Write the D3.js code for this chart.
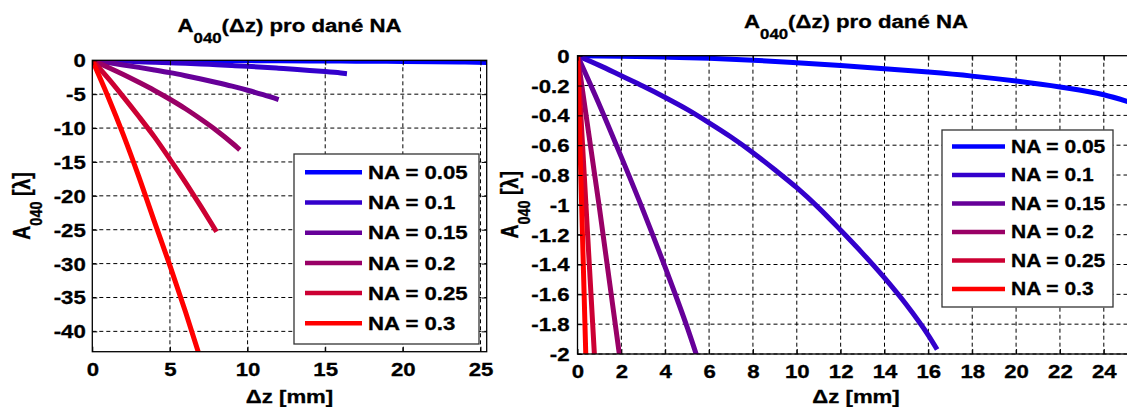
<!DOCTYPE html>
<html>
<head>
<meta charset="utf-8">
<script src="https://cdn.jsdelivr.net/npm/d3@7"></script>
<style>
  body { margin: 0; background: #fff; }
  svg { display: block; }
  text { font-family: "Liberation Sans", Arial, sans-serif; font-weight: bold; fill: #000; stroke: #000; stroke-width: 0.3px; }
</style>
</head>
<body>
<svg id="chart" width="1127" height="407"></svg>
<script>
// legend labels and line colours (blue -> red)
const naLabels = ["NA = 0.05", "NA = 0.1", "NA = 0.15", "NA = 0.2", "NA = 0.25", "NA = 0.3"];
const naColors = ["#0000ff", "#3300cc", "#660099", "#990066", "#cc0033", "#ff0000"];

// values: dz [mm] and A040 [lambda]
const dzNA005 = [0, 2, 4, 6, 8, 10, 12, 14, 16, 18, 20, 22, 24, 25.4];
const a040NA005 = [0, -0.003, -0.009, -0.017, -0.03, -0.047, -0.066, -0.087, -0.11, -0.137, -0.17, -0.21, -0.262, -0.322];
const dzNA01 = [0, 1, 2, 3, 4, 5, 6, 7, 8, 9, 10, 11, 12, 13, 14, 15, 16, 16.4];
const a040NA01 = [0, -0.065, -0.135, -0.205, -0.28, -0.36, -0.45, -0.545, -0.65, -0.765, -0.885, -1.02, -1.17, -1.325, -1.49, -1.67, -1.875, -1.97];
const dzNA015 = [0, 1, 2, 3, 4, 5, 6, 7, 8, 9, 10, 11, 12];
const a040NA015 = [0, -0.33, -0.68, -1.04, -1.42, -1.82, -2.27, -2.75, -3.27, -3.82, -4.42, -5.08, -5.8];
const dzNA02 = [0, 1, 2, 3, 4, 5, 6, 7, 8, 9, 9.5];
const a040NA02 = [0, -1.02, -2.1, -3.25, -4.45, -5.75, -7.15, -8.7, -10.35, -12.2, -13.2];
const dzNA025 = [0, 1, 2, 3, 4, 5, 6, 7, 8];
const a040NA025 = [0, -2.6, -5.4, -8.3, -11.3, -14.6, -18.0, -21.6, -25.3];
const dzNA03 = [0, 1, 2, 3, 4, 5, 6, 7];
const a040NA03 = [0, -5.3, -11.0, -17.2, -23.8, -30.3, -37.1, -44.3];

// tick values for both panels
const leftXTicks = [0, 5, 10, 15, 20, 25];
const leftYTicks = [0, -5, -10, -15, -20, -25, -30, -35, -40];
const rightXTicks = [0, 2, 4, 6, 8, 10, 12, 14, 16, 18, 20, 22, 24];
const rightYTicks = [0, -0.2, -0.4, -0.6, -0.8, -1, -1.2, -1.4, -1.6, -1.8, -2];

const SX = 1.2; // the picture's text is stretched sideways

function main(){
  const svg = d3.select("#chart");
  const dzAll = [dzNA005, dzNA01, dzNA015, dzNA02, dzNA025, dzNA03];
  const aAll = [a040NA005, a040NA01, a040NA015, a040NA02, a040NA025, a040NA03];
  const series = naLabels.map((label, i) => ({
    label: label,
    color: naColors[i],
    points: d3.zip(dzAll[i], aAll[i])
  }));

  draw_panel(svg, series, {
    id: "left", left: 92.3, right: 486.7, top: 60.3, bottom: 351.7,
    xDomain: [0, 25.4], yDomain: [-43, 0],
    xTicks: leftXTicks, yTicks: leftYTicks,
    titleY: 31.7, xLabelY: 403, yLabelX: 30, xTickY: 376, yTickGap: 6.5,
    legend: {x: 294, y: 154, w: 185, h: 190, first: 172.3, step: 30.2, l1: 305, l2: 362, tx: 368, fs: 18.5}
  });

  draw_panel(svg, series, {
    id: "right", left: 577.5, right: 1134.5, top: 55.7, bottom: 354,
    xDomain: [0, 25.4], yDomain: [-2, 0],
    xTicks: rightXTicks, yTicks: rightYTicks,
    titleY: 28, xLabelY: 403, yLabelX: 518, xTickY: 378, yTickGap: 8,
    legend: {x: 942, y: 130, w: 171, h: 177, first: 146.5, step: 28.5, l1: 952, l2: 1005, tx: 1011, fs: 17.5}
  });
}

function place(sel, x, y, rotate){
  // position a text and stretch it horizontally like the original
  sel.attr("x", 0).attr("y", 0)
    .attr("transform", `translate(${x},${y}) scale(${SX},1)` + (rotate ? ` rotate(${rotate})` : ""));
  return sel;
}

function draw_panel(svg, series, cfg){
  const g = svg.append("g").attr("id", cfg.id);
  const xScale = d3.scaleLinear().domain(cfg.xDomain).range([cfg.left, cfg.right]);
  const yScale = d3.scaleLinear().domain(cfg.yDomain).range([cfg.bottom, cfg.top]);

  // clip for the curves
  const clipId = "clip-" + cfg.id;
  svg.append("clipPath").attr("id", clipId).append("rect")
    .attr("x", cfg.left).attr("y", cfg.top)
    .attr("width", cfg.right - cfg.left).attr("height", cfg.bottom - cfg.top);

  // dashed grid
  const grid = g.append("g").attr("stroke", "#000").attr("stroke-width", 1).attr("stroke-dasharray", "4,3");
  grid.selectAll("line.gx").data(cfg.xTicks.filter(d => d > 0)).join("line").attr("class", "gx")
    .attr("x1", d => xScale(d)).attr("x2", d => xScale(d))
    .attr("y1", cfg.top).attr("y2", cfg.bottom);
  grid.selectAll("line.gy").data(cfg.yTicks.filter(d => d < 0)).join("line").attr("class", "gy")
    .attr("x1", cfg.left).attr("x2", cfg.right)
    .attr("y1", d => yScale(d)).attr("y2", d => yScale(d));

  // curves
  const line = d3.line().x(d => xScale(d[0])).y(d => yScale(d[1])).curve(d3.curveMonotoneX);
  g.append("g").attr("clip-path", `url(#${clipId})`)
    .selectAll("path").data(series).join("path")
    .attr("d", d => line(d.points))
    .attr("fill", "none").attr("stroke", d => d.color)
    .attr("stroke-width", 5).attr("stroke-linejoin", "round");

  // axes, ticks pointing inside on all four sides
  const fmt = d => String(d);
  const xAxis = d3.axisBottom(xScale).tickValues(cfg.xTicks).tickSize(-5).tickFormat(fmt);
  const yAxis = d3.axisLeft(yScale).tickValues(cfg.yTicks).tickSize(-5).tickFormat(fmt);
  const xTop = d3.axisTop(xScale).tickValues(cfg.xTicks).tickSize(-5).tickFormat("");
  const yRight = d3.axisRight(yScale).tickValues(cfg.yTicks).tickSize(-5).tickFormat("");

  const gx = g.append("g").attr("transform", `translate(0,${cfg.bottom})`).call(xAxis);
  const gy = g.append("g").attr("transform", `translate(${cfg.left},0)`).call(yAxis);
  g.append("g").attr("transform", `translate(0,${cfg.top})`).call(xTop);
  g.append("g").attr("transform", `translate(${cfg.right},0)`).call(yRight);

  g.selectAll(".domain").remove();
  g.selectAll(".tick line").attr("stroke", "#000").attr("stroke-width", 1);

  gx.selectAll(".tick text").attr("font-size", 18.5).attr("text-anchor", "middle").attr("dy", null)
    .each(function(){ place(d3.select(this), 0, cfg.xTickY - cfg.bottom); });
  gy.selectAll(".tick text").attr("font-size", 18.5).attr("text-anchor", "end").attr("dy", "0.35em")
    .each(function(){ place(d3.select(this), -cfg.yTickGap, 0); });
  g.selectAll("text").attr("font-family", null).attr("fill", "#000");

  // plot box
  g.append("rect").attr("x", cfg.left).attr("y", cfg.top)
    .attr("width", cfg.right - cfg.left).attr("height", cfg.bottom - cfg.top)
    .attr("fill", "none").attr("stroke", "#000").attr("stroke-width", 1.3);

  // title with subscript
  const midX = (cfg.left + cfg.right) / 2;
  const title = g.append("text").attr("text-anchor", "middle").attr("font-size", 18.5);
  title.append("tspan").text("A");
  title.append("tspan").attr("font-size", 14).attr("dy", 11).text("040");
  title.append("tspan").attr("dy", -11).text("(\u0394z) pro dané NA");
  place(title, midX, cfg.titleY);

  // axis labels
  place(g.append("text").attr("text-anchor", "middle").attr("font-size", 18.5).text("\u0394z [mm]"), midX, cfg.xLabelY);

  const midY = (cfg.top + cfg.bottom) / 2;
  const yl = g.append("text").attr("text-anchor", "middle").attr("font-size", 19.5);
  yl.append("tspan").text("A");
  yl.append("tspan").attr("font-size", 14.5).attr("dy", 10).text("040");
  yl.append("tspan").attr("dy", -10).text(" [\u03bb]");
  place(yl, cfg.yLabelX, midY, -90);

  // legend
  const lg = cfg.legend;
  const leg = g.append("g");
  leg.append("rect").attr("x", lg.x).attr("y", lg.y).attr("width", lg.w).attr("height", lg.h)
    .attr("fill", "#fff").attr("stroke", "#333").attr("stroke-width", 1.3);
  const rows = leg.selectAll("g.row").data(series).join("g").attr("class", "row");
  rows.append("line")
    .attr("x1", lg.l1).attr("x2", lg.l2)
    .attr("y1", (d, i) => lg.first + i * lg.step).attr("y2", (d, i) => lg.first + i * lg.step)
    .attr("stroke", d => d.color).attr("stroke-width", 4.5);
  rows.append("text").attr("font-size", lg.fs).attr("dy", "0.36em").text(d => d.label)
    .each(function(d, i){ place(d3.select(this), lg.tx, lg.first + i * lg.step); });
}

main();
</script>
</body>
</html>
